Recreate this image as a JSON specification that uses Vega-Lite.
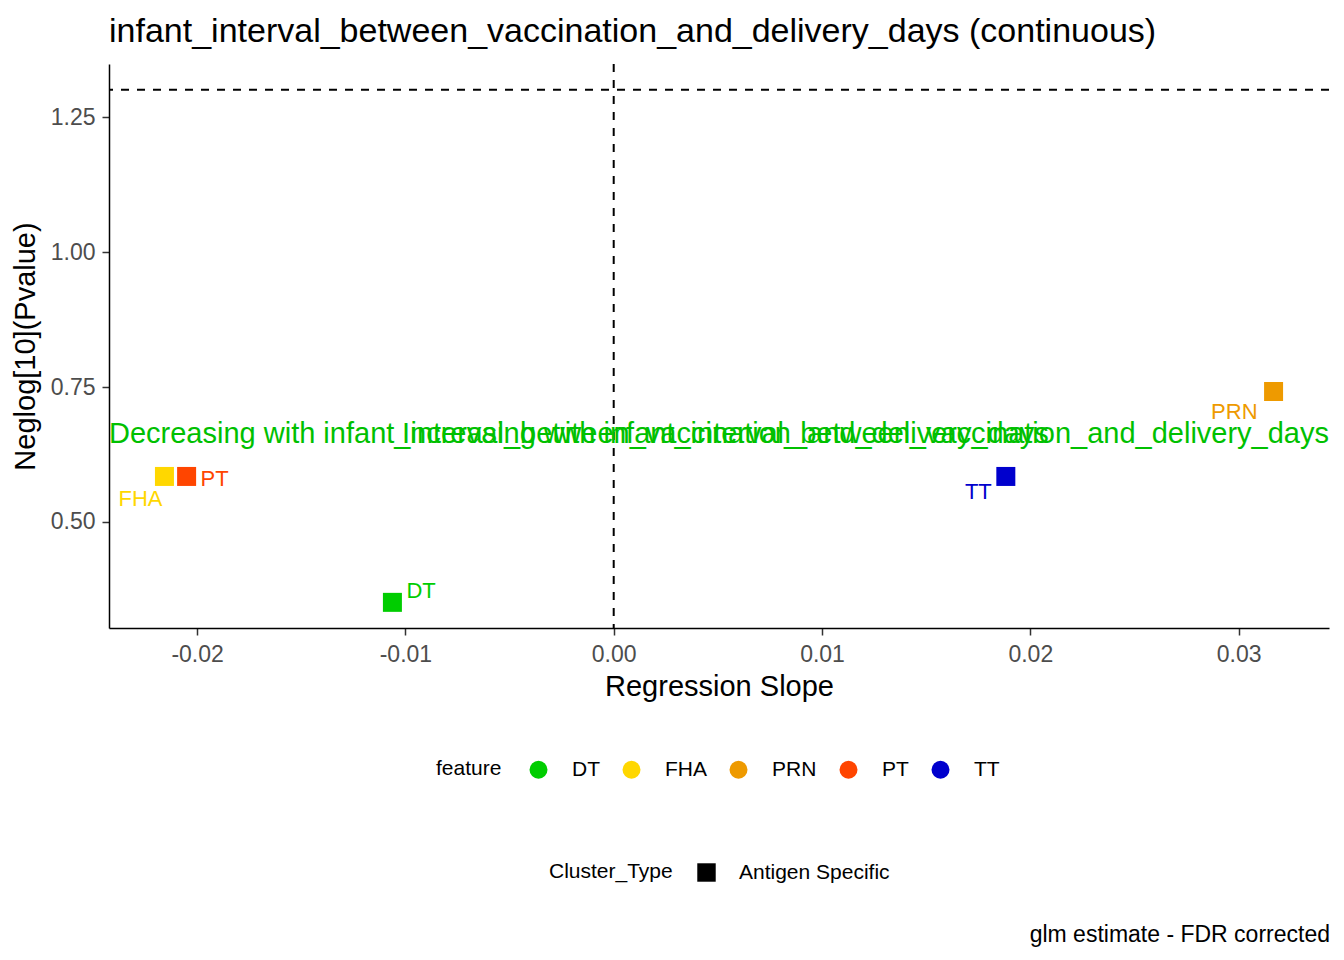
{
  "$schema": "https://vega.github.io/schema/vega-lite/v6.json",
  "background": "white",
  "autosize": {"type": "pad"},
  "padding": {"left": 11, "top": 15, "right": 14, "bottom": 10},
  "config": {
    "font": "Liberation Sans",
    "view": {"stroke": null},
    "locale": {"number": {"decimal": ".", "thousands": ",", "grouping": [3], "currency": ["$", ""], "minus": "-"}},
    "axis": {
      "grid": false,
      "domainColor": "black",
      "domainWidth": 1.5,
      "tickColor": "#333333",
      "tickWidth": 1.5,
      "tickSize": 7,
      "labelFont": "Liberation Sans",
      "labelFontSize": 23,
      "labelColor": "#4D4D4D",
      "titleFont": "Liberation Sans",
      "titleFontSize": 29,
      "titleFontWeight": "normal",
      "titleColor": "black"
    },
    "legend": {
      "labelFont": "Liberation Sans",
      "labelFontSize": 21,
      "labelColor": "black",
      "titleFont": "Liberation Sans",
      "titleFontSize": 21,
      "titleFontWeight": "normal",
      "titleColor": "black"
    }
  },
  "title": {
    "text": "glm estimate - FDR corrected",
    "orient": "bottom",
    "anchor": "end",
    "fontSize": 23,
    "fontWeight": "normal",
    "color": "black",
    "offset": 41
  },
  "datasets": {
    "features": [
      {"feature": "DT", "Cluster_Type": "Antigen Specific", "slope": -0.010624, "neglog10p": 0.35093},
      {"feature": "FHA", "Cluster_Type": "Antigen Specific", "slope": -0.021568, "neglog10p": 0.58426},
      {"feature": "PRN", "Cluster_Type": "Antigen Specific", "slope": 0.031679, "neglog10p": 0.74167},
      {"feature": "PT", "Cluster_Type": "Antigen Specific", "slope": -0.020504, "neglog10p": 0.58426},
      {"feature": "TT", "Cluster_Type": "Antigen Specific", "slope": 0.018825, "neglog10p": 0.58426}
    ],
    "annotations": [
      {"direction": "Decreasing", "label": "Decreasing with infant_interval_between_vaccination_and_delivery_days"},
      {"direction": "Increasing", "label": "Increasing with infant_interval_between_vaccination_and_delivery_days"}
    ],
    "threshold": [
      {"threshold": 1.30103}
    ]
  },
  "vconcat": [
    {
      "title": {
        "text": "infant_interval_between_vaccination_and_delivery_days (continuous)",
        "anchor": "start",
        "frame": "group",
        "fontSize": 34,
        "fontWeight": "normal",
        "color": "black",
        "offset": 14
      },
      "width": 1220,
      "height": 564,
      "layer": [
        {
          "data": {"name": "threshold"},
          "mark": {"type": "rule", "strokeDash": [8, 8], "strokeWidth": 2, "color": "black"},
          "encoding": {
            "y": {"field": "threshold", "type": "quantitative"}
          }
        },
        {
          "data": {"name": "threshold"},
          "mark": {"type": "rule", "strokeDash": [8, 8], "strokeWidth": 2, "color": "black"},
          "encoding": {
            "x": {"datum": 0, "type": "quantitative"}
          }
        },
        {
          "data": {"name": "annotations"},
          "transform": [{"filter": "datum.direction == 'Decreasing'"}],
          "mark": {"type": "text", "align": "left", "baseline": "alphabetic", "fontSize": 29, "color": "#00C000"},
          "encoding": {
            "x": {"datum": -0.02423, "type": "quantitative"},
            "y": {"datum": 0.6469, "type": "quantitative"},
            "text": {"field": "label"}
          }
        },
        {
          "data": {"name": "annotations"},
          "transform": [{"filter": "datum.direction == 'Increasing'"}],
          "mark": {"type": "text", "align": "right", "baseline": "alphabetic", "fontSize": 29, "color": "#00C000"},
          "encoding": {
            "x": {"datum": 0.03434, "type": "quantitative"},
            "y": {"datum": 0.6469, "type": "quantitative"},
            "text": {"field": "label"}
          }
        },
        {
          "data": {"name": "features"},
          "mark": {"type": "point", "filled": true, "opacity": 1, "size": 361, "strokeWidth": 0},
          "encoding": {
            "x": {
              "field": "slope",
              "type": "quantitative",
              "title": "Regression Slope",
              "scale": {"domain": [-0.02423, 0.03434], "nice": false, "zero": false},
              "axis": {"values": [-0.02, -0.01, 0, 0.01, 0.02, 0.03], "format": ".2f", "labelPadding": 8, "titlePadding": 6}
            },
            "y": {
              "field": "neglog10p",
              "type": "quantitative",
              "title": "Neglog[10](Pvalue)",
              "scale": {"domain": [0.3034, 1.3486], "nice": false, "zero": false},
              "axis": {"values": [0.5, 0.75, 1.0, 1.25], "format": ".2f", "labelPadding": 7, "titlePadding": 10}
            },
            "color": {
              "field": "feature",
              "type": "nominal",
              "scale": {"domain": ["DT", "FHA", "PRN", "PT", "TT"], "range": ["#00CD00", "#FFD700", "#EE9A00", "#FF4500", "#0000CD"]},
              "legend": {
                "title": "feature",
                "orient": "none",
                "legendX": 327,
                "legendY": 695,
                "direction": "horizontal",
                "titleOrient": "left",
                "titleAnchor": "middle",
                "titleBaseline": "middle",
                "titlePadding": 26,
                "symbolType": "circle",
                "symbolSize": 324,
                "symbolStrokeWidth": 0,
                "labelOffset": 23,
                "columnPadding": 21
              }
            },
            "shape": {
              "field": "Cluster_Type",
              "type": "nominal",
              "scale": {"domain": ["Antigen Specific"], "range": ["square"]},
              "legend": {
                "title": "Cluster_Type",
                "orient": "none",
                "legendX": 440,
                "legendY": 798,
                "direction": "horizontal",
                "titleOrient": "left",
                "titleAnchor": "middle",
                "titleBaseline": "middle",
                "titlePadding": 23,
                "symbolSize": 340,
                "symbolStrokeWidth": 0,
                "labelOffset": 22,
                "encode": {"symbols": {"update": {"fill": {"value": "black"}, "stroke": {"value": "black"}, "opacity": {"value": 1}}}}
              }
            }
          }
        },
        {
          "data": {"name": "features"},
          "transform": [{"filter": "datum.feature == 'DT'"}],
          "mark": {"type": "text", "align": "left", "baseline": "alphabetic", "dx": 14, "dy": -4, "fontSize": 22},
          "encoding": {
            "x": {"field": "slope", "type": "quantitative"},
            "y": {"field": "neglog10p", "type": "quantitative"},
            "text": {"field": "feature"},
            "color": {"field": "feature", "type": "nominal", "legend": null}
          }
        },
        {
          "data": {"name": "features"},
          "transform": [{"filter": "datum.feature == 'PT'"}],
          "mark": {"type": "text", "align": "left", "baseline": "alphabetic", "dx": 14, "dy": 10, "fontSize": 22},
          "encoding": {
            "x": {"field": "slope", "type": "quantitative"},
            "y": {"field": "neglog10p", "type": "quantitative"},
            "text": {"field": "feature"},
            "color": {"field": "feature", "type": "nominal", "legend": null}
          }
        },
        {
          "data": {"name": "features"},
          "transform": [{"filter": "datum.feature == 'FHA'"}],
          "mark": {"type": "text", "align": "right", "baseline": "alphabetic", "dx": -2, "dy": 30, "fontSize": 22},
          "encoding": {
            "x": {"field": "slope", "type": "quantitative"},
            "y": {"field": "neglog10p", "type": "quantitative"},
            "text": {"field": "feature"},
            "color": {"field": "feature", "type": "nominal", "legend": null}
          }
        },
        {
          "data": {"name": "features"},
          "transform": [{"filter": "datum.feature == 'TT'"}],
          "mark": {"type": "text", "align": "right", "baseline": "alphabetic", "dx": -14, "dy": 23, "fontSize": 22},
          "encoding": {
            "x": {"field": "slope", "type": "quantitative"},
            "y": {"field": "neglog10p", "type": "quantitative"},
            "text": {"field": "feature"},
            "color": {"field": "feature", "type": "nominal", "legend": null}
          }
        },
        {
          "data": {"name": "features"},
          "transform": [{"filter": "datum.feature == 'PRN'"}],
          "mark": {"type": "text", "align": "right", "baseline": "alphabetic", "dx": -16, "dy": 27, "fontSize": 22},
          "encoding": {
            "x": {"field": "slope", "type": "quantitative"},
            "y": {"field": "neglog10p", "type": "quantitative"},
            "text": {"field": "feature"},
            "color": {"field": "feature", "type": "nominal", "legend": null}
          }
        }
      ]
    }
  ]
}
